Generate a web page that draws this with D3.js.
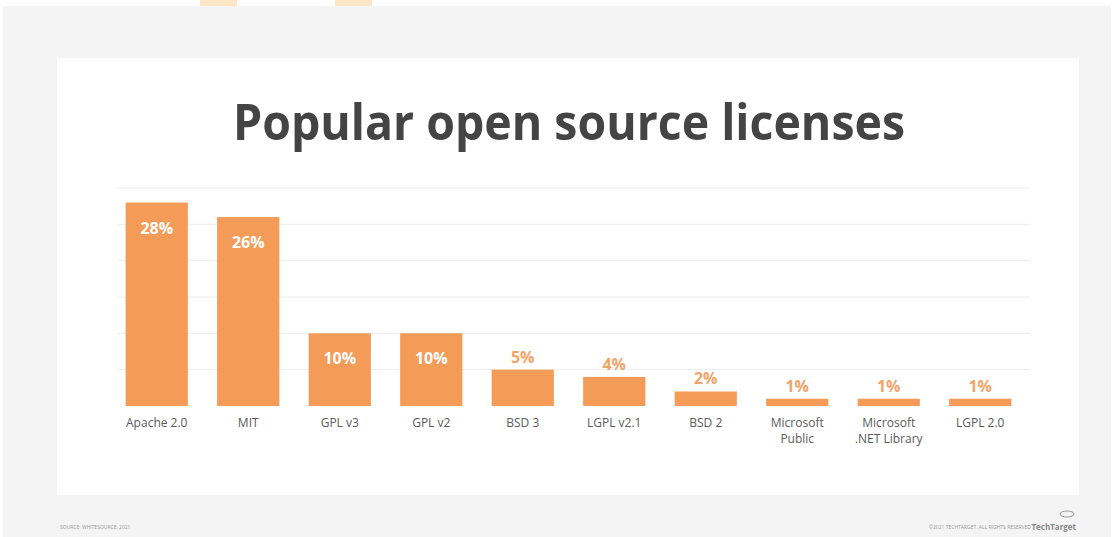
<!DOCTYPE html>
<html lang="en">
<head>
    <meta charset="UTF-8">
    <title>Popular open source licenses</title>
    <script src="https://cdn.jsdelivr.net/npm/d3@7/dist/d3.min.js"></script>
    <style>
        body {
            margin: 0;
            background: #ffffff;
        }
        .cat-label {
            font-family: "Open Sans", sans-serif;
            font-size: 12px;
            fill: #5a5a5a;
        }
        .val-label {
            font-family: "Open Sans", sans-serif;
            font-size: 16px;
            font-weight: bold;
        }
    </style>
</head>
<body>
    <svg id="chart" width="1114" height="537"></svg>

    <script>
        // Chart data
        const licenses = ["Apache 2.0", "MIT", "GPL v3", "GPL v2", "BSD 3", "LGPL v2.1", "BSD 2", "Microsoft Public", "Microsoft .NET Library", "LGPL 2.0"];
        const shares = [28, 26, 10, 10, 5, 4, 2, 1, 1, 1];
        const labelLines = [["Apache 2.0"], ["MIT"], ["GPL v3"], ["GPL v2"], ["BSD 3"], ["LGPL v2.1"], ["BSD 2"], ["Microsoft", "Public"], ["Microsoft", ".NET Library"], ["LGPL 2.0"]];
        const gridTicks = [5, 10, 15, 20, 25, 30];

        const data = licenses.map((name, i) => ({ name: name, value: shares[i], lines: labelLines[i] }));

        const svg = d3.select("#chart");

        // page background and white card
        svg.append("rect").attr("x", 3).attr("y", 6).attr("width", 1108).attr("height", 531).attr("fill", "#f4f4f4");
        svg.append("rect").attr("x", 200).attr("y", 0).attr("width", 37).attr("height", 6).attr("fill", "#fde6c6");
        svg.append("rect").attr("x", 335).attr("y", 0).attr("width", 37).attr("height", 6).attr("fill", "#fde6c6");
        svg.append("rect").attr("x", 57).attr("y", 58).attr("width", 1022).attr("height", 437).attr("fill", "#ffffff");

        // title
        svg.append("text")
            .attr("x", 569)
            .attr("y", 140)
            .attr("text-anchor", "middle")
            .attr("font-family", "Open Sans, sans-serif")
            .attr("font-weight", "bold")
            .attr("font-size", 50)
            .attr("fill", "#444444")
            .attr("textLength", 672)
            .attr("lengthAdjust", "spacingAndGlyphs")
            .text("Popular open source licenses");

        // scales
        const x = d3.scaleBand()
            .domain(licenses)
            .range([111, 1026])
            .paddingInner(0.32)
            .paddingOuter(0.16);

        const y = d3.scaleLinear()
            .domain([0, 30])
            .range([406, 188]);

        // gridlines
        svg.append("g")
            .selectAll("line")
            .data(gridTicks)
            .enter()
            .append("line")
            .attr("x1", 118)
            .attr("x2", 1030)
            .attr("y1", d => y(d))
            .attr("y2", d => y(d))
            .attr("stroke", "#ececec")
            .attr("stroke-width", 1);

        // bars
        svg.append("g")
            .selectAll("rect")
            .data(data)
            .enter()
            .append("rect")
            .attr("x", d => x(d.name))
            .attr("y", d => y(d.value))
            .attr("width", x.bandwidth())
            .attr("height", d => y(0) - y(d.value))
            .attr("fill", "#f59b58");

        // value labels: inside big bars, above small ones
        svg.append("g")
            .selectAll("text")
            .data(data)
            .enter()
            .append("text")
            .attr("class", "val-label")
            .attr("x", d => x(d.name) + x.bandwidth() / 2)
            .attr("y", d => d.value >= 10 ? y(d.value) + 31 : y(d.value) - 7)
            .attr("text-anchor", "middle")
            .attr("fill", d => d.value >= 10 ? "#ffffff" : "#f3a468")
            .text(d => d.value + "%");

        // category labels
        const cats = svg.append("g")
            .selectAll("text")
            .data(data)
            .enter()
            .append("text")
            .attr("class", "cat-label")
            .attr("text-anchor", "middle")
            .attr("x", d => x(d.name) + x.bandwidth() / 2)
            .attr("y", 427);

        cats.selectAll("tspan")
            .data(d => d.lines.map(line => ({ line: line, cx: x(d.name) + x.bandwidth() / 2 })))
            .enter()
            .append("tspan")
            .attr("x", d => d.cx)
            .attr("dy", (d, i) => i === 0 ? 0 : 16)
            .text(d => d.line);

        // footer
        svg.append("text")
            .attr("x", 60)
            .attr("y", 529)
            .attr("font-family", "Open Sans, sans-serif")
            .attr("font-size", 5)
            .attr("fill", "#9a9a9a")
            .text("SOURCE: WHITESOURCE, 2021");

        svg.append("text")
            .attr("x", 1031)
            .attr("y", 529)
            .attr("text-anchor", "end")
            .attr("font-family", "Open Sans, sans-serif")
            .attr("font-size", 5)
            .attr("fill", "#9a9a9a")
            .text("©2021 TECHTARGET. ALL RIGHTS RESERVED");

        svg.append("text")
            .attr("x", 1076)
            .attr("y", 530)
            .attr("text-anchor", "end")
            .attr("font-family", "Open Sans, sans-serif")
            .attr("font-weight", "bold")
            .attr("font-size", 8)
            .attr("fill", "#8a8a8a")
            .text("TechTarget");

        svg.append("ellipse")
            .attr("cx", 1067)
            .attr("cy", 514)
            .attr("rx", 7)
            .attr("ry", 3)
            .attr("fill", "none")
            .attr("stroke", "#9a9a9a")
            .attr("stroke-width", 1);
    </script>
</body>
</html>
